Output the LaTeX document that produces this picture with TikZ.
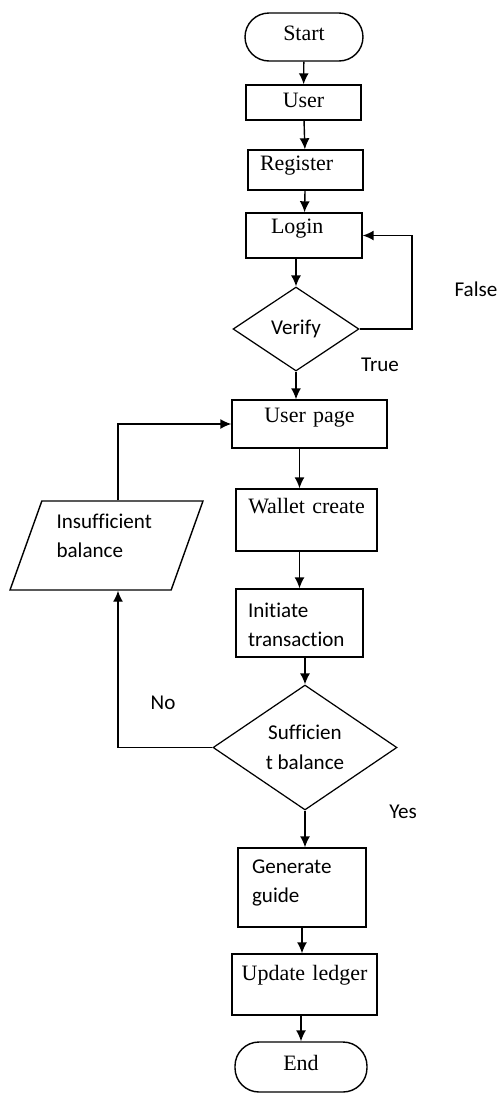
\documentclass[tikz,border=0pt]{standalone}
\usepackage{fontspec}
\setmainfont{Liberation Serif}
\newfontfamily\sansfnt[Ligatures=NoCommon]{Carlito}
\usetikzlibrary{arrows.meta,shapes.geometric}

\tikzset{
  box/.style={draw, line width=0.8pt, inner sep=0pt, align=center, font=\fontsize{12.5}{14}\selectfont},
  term/.style={box, rounded corners=0.48cm},
  sansbox/.style={box, align=left, font=\sansfnt\fontsize{12}{16.5}\selectfont},
  decision/.style={draw, diamond, line width=0.7pt, inner sep=0pt, aspect=1.5, align=center, font=\sansfnt\fontsize{12}{17}\selectfont},
  io/.style={draw, trapezium, trapezium left angle=67, trapezium right angle=113, trapezium stretches body, line width=0.8pt, inner sep=0pt, align=left, font=\sansfnt\fontsize{12}{16.5}\selectfont},
  lbl/.style={font=\sansfnt\fontsize{12}{14}\selectfont},
  arr/.style={-{Latex[length=2.2mm,width=2mm]}, line width=0.8pt}
}

\begin{document}
\begin{tikzpicture}[x=0.02cm, y=-0.02cm]
		\useasboundingbox (0,0) rectangle (497,1093);
		\node[term, text width=2.36cm, text height=0.54cm, text depth=0.42cm] (start) at (304,37) {Start};
		\node[box, text width=2.3cm, text height=0.44cm, text depth=0.26cm] (user) at (303.5,102.5) {User};
		\node[box, align=left, inner xsep=0.24cm, text width=1.82cm, text height=0.4cm, text depth=0.4cm] (register) at (305.5,170) {Register};
		\node[box, align=left, inner xsep=0.5cm, text width=1.32cm, text height=0.4cm, text depth=0.5cm] (login) at (304,235.5) {Login};
		\node[decision, minimum width=2.52cm, minimum height=1.68cm] (verify) at (296,329) {Verify};
		\node[box, text width=3.1cm, text height=0.44cm, text depth=0.52cm] (userpage) at (309.5,424) {User page};
		\node[box, text width=2.82cm, text height=0.48cm, text depth=0.76cm] (wallet) at (306.5,520) {Wallet create};
		\node[sansbox, inner xsep=0.24cm, text width=2.06cm, text height=0.56cm, text depth=0.8cm] (initiate) at (299.5,623) {Initiate\\transaction};
		\node[decision, minimum width=3.68cm, minimum height=2.5cm] (suff) at (305,747.5) {Sufficien\\t balance};
		\node[io, minimum width=3.86cm, minimum height=1.78cm, text width=2.0cm, text height=0.4cm, text depth=1.1cm] (insuf) at (106.5,545.5) {Insufficient\\balance};
		\node[sansbox, inner xsep=0.28cm, text width=2.0cm, text height=0.5cm, text depth=1.08cm] (generate) at (302,887.5) {Generate\\guide};
		\node[box, text width=2.9cm, text height=0.52cm, text depth=0.7cm] (update) at (304.5,984.5) {Update ledger};
		\node[term, text width=2.64cm, text height=0.56cm, text depth=0.44cm] (end) at (301,1067) {End};

		\node[lbl] (lblfalse) at (476,289) {False};
		\node[lbl] (lbltrue) at (380,365) {True};
		\node[lbl] (lblno) at (163,703) {No};
		\node[lbl] (lblyes) at (403,812) {Yes};

		\coordinate (falsecorner) at (412,329);

		\draw[arr] (start) -- (user);
		\draw[arr] (user) -- (register);
		\draw[arr] (register) -- (login);
		\draw[arr] (verify.north |- login.south) -- (verify.north);
		\draw[arr] (verify.east) -- (falsecorner) |- (login.east);
		\draw[arr] (verify.south) -- (verify.south |- userpage.north);
		\draw[arr] (initiate.north |- userpage.south) -- (initiate.north |- wallet.north);
		\draw[arr] (initiate.north |- wallet.south) -- (initiate.north);
		\draw[arr] (suff.north |- initiate.south) -- (suff.north);
		\draw[arr] (suff.west) -| ([xshift=0.23cm]insuf.center |- insuf.south);
		\draw[arr] ([xshift=0.23cm]insuf.center |- insuf.north) |- (userpage.west);
		\draw[arr] (suff.south) -- (suff.south |- generate.north);
		\draw[arr] (generate.south) -- (generate.south |- update.north);
		\draw[arr] (end.north |- update.south) -- (end.north);
	\end{tikzpicture}
\end{document}
